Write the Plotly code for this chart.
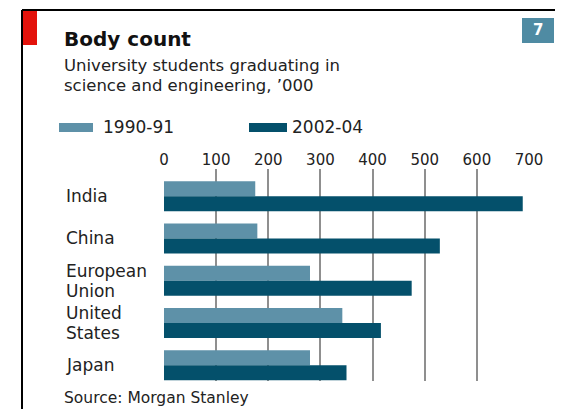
import plotly.graph_objects as go

categories = ["India", "China", "European<br>Union", "United<br>States", "Japan"]
y_1990 = [175, 179, 280, 342, 280]
y_2002 = [688, 529, 475, 416, 350]
series_names = ["1990-91", "2002-04"]
x_ticks = [0, 100, 200, 300, 400, 500, 600, 700]

LIGHT = "#5e91a8"
DARK = "#04506b"
FONT = "DejaVu Sans"
TXT = "#222222"

OFF = 8  # page body margin
W, H = 563 - OFF, 409 - OFF
L, R, T, B = 164 - OFF, 529 - OFF, 169 - OFF, 381 - OFF  # plot area in figure pixels


def px(x):
    return (x - OFF - L) / (R - L)


def py(y):
    return (B - (y - OFF)) / (B - T)


fig = go.Figure()
fig.add_trace(go.Bar(y=categories, x=y_1990, name=series_names[0], orientation="h",
                     marker=dict(color=LIGHT, line=dict(width=0))))
fig.add_trace(go.Bar(y=categories, x=y_2002, name=series_names[1], orientation="h",
                     marker=dict(color=DARK, line=dict(width=0))))

fig.update_layout(
    width=W, height=H,
    margin=dict(l=L, r=W - R, t=T, b=H - B, pad=0),
    paper_bgcolor="white", plot_bgcolor="white",
    barmode="group", bargap=0.29, bargroupgap=0,
    showlegend=False,
    font=dict(family=FONT, color=TXT, size=14),
    xaxis=dict(range=[0, 700], side="top", tickvals=x_ticks,
               ticktext=[str(v) for v in x_ticks],
               showgrid=True, gridcolor="#8f8f8f", gridwidth=2,
               zeroline=False, showline=False, ticks="",
               tickfont=dict(size=15, family=FONT, color=TXT), fixedrange=True),
    yaxis=dict(type="category", categoryorder="array", categoryarray=categories,
               range=[4.374, -0.644], showticklabels=False, showgrid=False,
               zeroline=False, showline=False, ticks="", fixedrange=True),
)

# category labels (left aligned, tight line spacing)
LINE_H = 20
for c in categories:
    lines = c.split("<br>")
    n = len(lines)
    for i, ln in enumerate(lines):
        shift = ((n - 1) / 2 - i) * LINE_H
        fig.add_annotation(x=px(64), xref="paper", y=c, yref="y", text=ln,
                           xanchor="left", yanchor="middle", align="left",
                           yshift=shift, showarrow=False,
                           font=dict(size=17, family=FONT, color=TXT))

shapes = []
# frame lines
shapes.append(dict(type="line", xref="paper", yref="paper", x0=px(22), x1=px(570),
                   y0=py(10), y1=py(10), line=dict(color="black", width=2)))
shapes.append(dict(type="line", xref="paper", yref="paper", x0=px(22), x1=px(22),
                   y0=py(10), y1=py(420), line=dict(color="black", width=2)))
# red tab
shapes.append(dict(type="rect", xref="paper", yref="paper", x0=px(23), x1=px(37),
                   y0=py(11), y1=py(45), fillcolor="#e3120b", line=dict(width=0)))
# number box
shapes.append(dict(type="rect", xref="paper", yref="paper", x0=px(522), x1=px(554),
                   y0=py(18), y1=py(43), fillcolor="#4f8ba3", line=dict(width=0)))
# legend swatches
shapes.append(dict(type="rect", xref="paper", yref="paper", x0=px(59), x1=px(93),
                   y0=py(123), y1=py(132), fillcolor=LIGHT, line=dict(width=0)))
shapes.append(dict(type="rect", xref="paper", yref="paper", x0=px(249), x1=px(287),
                   y0=py(123), y1=py(132), fillcolor=DARK, line=dict(width=0)))
fig.update_layout(shapes=shapes)


def text(x, y, s, size=14, bold=False, color=TXT, anchor="left"):
    fig.add_annotation(x=px(x), y=py(y), xref="paper", yref="paper",
                       text=f"<b>{s}</b>" if bold else s, showarrow=False,
                       xanchor=anchor, yanchor="middle", align="left",
                       font=dict(size=size, family=FONT, color=color))


text(62, 39, "Body count", size=20, bold=True, color="#111111")
text(62, 65, "University students graduating in", size=16.5)
text(62, 85, "science and engineering, ’000", size=16.5)
text(101, 127, series_names[0], size=17)
text(290, 127, series_names[1], size=17)
text(538, 30, "7", size=15, bold=True, color="white", anchor="center")
text(62, 398, "Source: Morgan Stanley", size=15.5)

fig.write_html("out.html")
